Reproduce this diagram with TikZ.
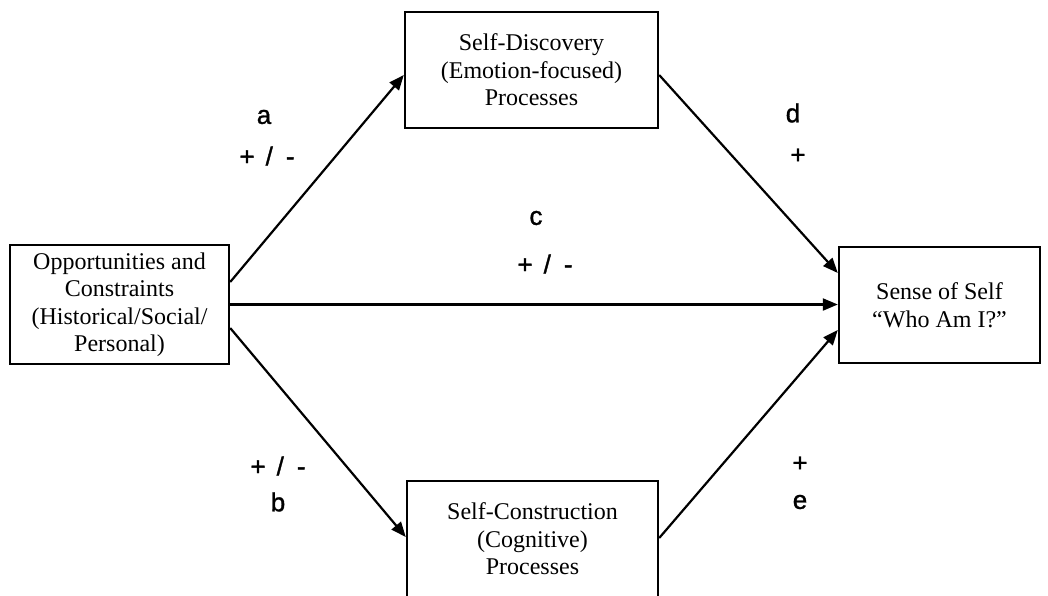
\documentclass[tikz,border=0pt]{standalone}
\usepackage{fontspec}
\setmainfont{Liberation Serif}
\newfontfamily\lblfont{Liberation Sans}[FakeBold=1.3]
\usetikzlibrary{arrows.meta,positioning}

\begin{document}
\begin{tikzpicture}[x=1pt, y=-1pt,
        box/.style={draw, line width=2.4pt, align=center, inner sep=0pt,
            font=\fontsize{24}{27.5}\selectfont},
        arr/.style={line width=2.2pt, -{Triangle[length=15pt,width=12pt]}},
        lbl/.style={font=\lblfont\fontsize{26}{30}\selectfont, inner sep=0pt}]
    \useasboundingbox (0, 0) rectangle (1048, 595);
    \node[box, minimum width=219pt, minimum height=119pt] (opp) at (119.5, 304.5)
        {Opportunities and\\Constraints\\(Historical/Social/\\Personal)};
    \node[box, minimum width=253pt, minimum height=116pt] (disc) at (531.5, 70)
        {Self-Discovery\\(Emotion-focused)\\Processes};
    \node[box, minimum width=251pt, minimum height=116pt] (constr) at (532.5, 539)
        {Self-Construction\\(Cognitive)\\Processes};
    \node[box, minimum width=201pt, minimum height=116pt] (self) at (939.5, 305)
        {Sense of Self\\“Who Am I?”};

    \draw[arr] ([yshift=22.5pt]opp.east) -- ([yshift=-5pt]disc.west);
    \draw[arr] ([yshift=-5pt]disc.east) -- ([yshift=32pt]self.west);
    \draw[arr] (opp.east) -- (opp.east -| self.west);
    \draw[arr] ([yshift=-23.5pt]opp.east) -- ([yshift=2pt]constr.west);
    \draw[arr] ([yshift=1pt]constr.east) -- ([yshift=-25pt]self.west);

    \node[lbl] (la) at (264, 117) {a};
    \node[lbl] (sa) at (267, 156) {+\hspace{11pt}/\hspace{13pt}-};
    \node[lbl] (lc) at (536, 218) {c};
    \node[lbl] (sc) at (545, 264) {+\hspace{11pt}/\hspace{13pt}-};
    \node[lbl] (sb) at (278, 466) {+\hspace{11pt}/\hspace{13pt}-};
    \node[lbl] (lb) at (278, 502) {b};
    \node[lbl] (ld) at (793, 113) {d};
    \node[lbl] (sd) at (798, 156) {+};
    \node[lbl] (se) at (800, 464) {+};
    \node[lbl] (le) at (800, 502) {e};
\end{tikzpicture}
\end{document}
